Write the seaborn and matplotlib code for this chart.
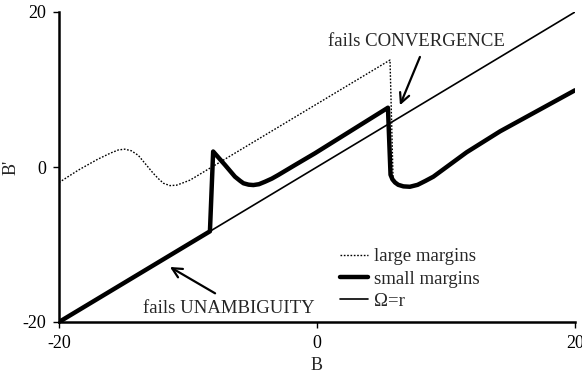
import matplotlib
matplotlib.use("Agg")
import matplotlib.pyplot as plt
import seaborn as sns
import pandas as pd

# B' versus B for the two margin settings and the reference line Omega = r
b_large = [-20.0, -18.5, -17.0, -16.0, -15.4, -14.9, -14.4, -13.85, -13.4, -13.1,
           -12.7, -12.3, -11.9, -11.4, -10.9, -10.4, -9.84, 5.66, 5.9]
bp_large = [-2.0, -0.4, 1.0, 1.8, 2.2, 2.3, 2.1, 1.5, 0.6, 0.0,
            -0.8, -1.5, -2.1, -2.4, -2.35, -2.05, -1.69, 13.8, -1.7]

b_small = [-20.0, -8.3, -8.05, -7.13, -6.36, -5.95, -5.7, -5.3, -4.93, -4.5, -4.03,
           -3.5, -3.0, -1.7, -0.16, 5.5, 5.7, 5.85, 6.05, 6.3, 6.7, 7.2, 7.8, 8.4,
           9.02, 11.6, 14.19, 20.0]
bp_small = [-20.0, -8.3, 2.0, 0.26, -1.25, -1.8, -2.1, -2.28, -2.33, -2.22, -1.9,
            -1.5, -1.03, 0.26, 1.77, 7.65, -1.0, -1.6, -2.0, -2.3, -2.5, -2.55, -2.3,
            -1.8, -1.25, 1.9, 4.6, 9.9]

b_diag = [-20.0, 20.0]
bp_diag = [-20.0, 20.0]

x_ticks = [-20, 0, 20]
y_ticks = [-20, 0, 20]
tick_labels = ["-20", "0", "20"]

sns.set_style("ticks")
plt.rcParams["font.family"] = ["Liberation Serif", "DejaVu Serif"]
plt.rcParams["axes.unicode_minus"] = False

fig = plt.figure(figsize=(5.82, 3.75), dpi=100)
ax = fig.add_axes([59 / 582, 53 / 375, 516 / 582, 310 / 375])

large = pd.DataFrame({"B": b_large, "Bp": bp_large})
small = pd.DataFrame({"B": b_small, "Bp": bp_small})
diag = pd.DataFrame({"B": b_diag, "Bp": bp_diag})

sns.lineplot(data=large, x="B", y="Bp", sort=False, estimator=None, ax=ax,
             color="black", lw=1.0, linestyle=(0, (1.2, 1.2)), label="large margins")
sns.lineplot(data=small, x="B", y="Bp", sort=False, estimator=None, ax=ax,
             color="black", lw=3.2, label="small margins",
             solid_joinstyle="round", solid_capstyle="round")
sns.lineplot(data=diag, x="B", y="Bp", sort=False, estimator=None, ax=ax,
             color="black", lw=1.2, label="Ω=r")

ax.set_xlim(-20, 20)
ax.set_ylim(-20, 20)
ax.set_xticks(x_ticks)
ax.set_xticklabels(tick_labels)
ax.set_yticks(y_ticks)
ax.set_yticklabels(tick_labels)
ax.tick_params(axis="both", labelsize=13, length=4, width=1, color="black",
               labelcolor="black", pad=5)
for side in ("top", "right"):
    ax.spines[side].set_visible(False)
for side in ("left", "bottom"):
    ax.spines[side].set_linewidth(1.8)
    ax.spines[side].set_color("black")

ax.set_xlabel("B", fontsize=13, labelpad=4)
ax.set_ylabel("B'", fontsize=13, labelpad=2)

arrow = dict(arrowstyle="->,head_length=0.7,head_width=0.35", lw=1.6, color="black",
             shrinkA=0, shrinkB=0)
ax.text(0.85, 16.2, "fails CONVERGENCE", fontsize=13.5, ha="left", va="center")
ax.annotate("", xy=(6.43, 7.97), xytext=(7.98, 14.2), arrowprops=arrow)
ax.text(-13.5, -18.2, "fails UNAMBIGUITY", fontsize=13.5, ha="left", va="center")
ax.annotate("", xy=(-11.4, -12.9), xytext=(-7.9, -16.3), arrowprops=arrow)

leg = ax.legend(loc="upper left", bbox_to_anchor=((340 - 59) / 516, (322 - 248) / 310),
                frameon=False, fontsize=13.5, borderpad=0, borderaxespad=0,
                handlelength=1.5, handletextpad=0.3, labelspacing=0.28)

fig.savefig("out.png", dpi=100)
